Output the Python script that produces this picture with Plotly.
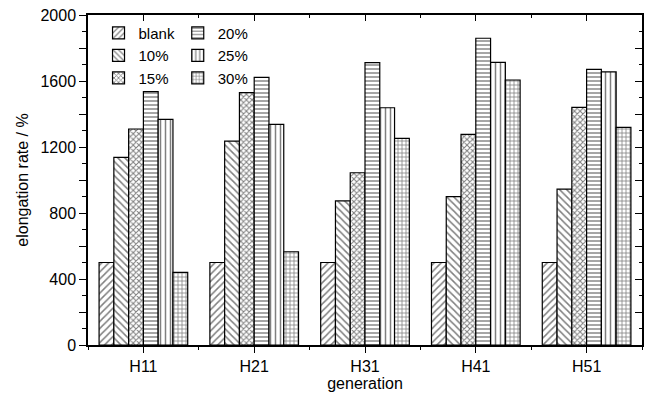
import plotly.graph_objects as go

categories = ["H11", "H21", "H31", "H41", "H51"]
series_names = ["blank", "10%", "15%", "20%", "25%", "30%"]
blank = [500, 500, 500, 500, 500]
p10 = [1137, 1236, 873, 899, 945]
p15 = [1309, 1529, 1044, 1277, 1440]
p20 = [1535, 1622, 1711, 1859, 1671]
p25 = [1368, 1337, 1438, 1713, 1655]
p30 = [440, 565, 1252, 1606, 1319]
y_ticks = [0, 200, 400, 600, 800, 1000, 1200, 1400, 1600, 1800, 2000]

values = [blank, p10, p15, p20, p25, p30]
shapes = ["/", "\\", "x", "-", "|", "+"]
sizes = [5, 5, 4, 4, 5, 4]
solid = [0.3, 0.3, 0.45, 0.35, 0.3, 0.35]
xs = list(range(len(categories)))

fig = go.Figure()
for i, (name, vals) in enumerate(zip(series_names, values)):
    fig.add_trace(go.Bar(
        x=xs, y=vals, name=name,
        marker=dict(color="white", line=dict(color="black", width=1.2),
                    pattern=dict(shape=shapes[i], fgcolor="black", bgcolor="white",
                                 size=sizes[i], solidity=solid[i], fillmode="overlay")),
        legend="legend" if i < 3 else "legend2",
    ))

fig.add_trace(go.Scatter(x=[None], y=[None], xaxis="x2", yaxis="y2", showlegend=False))

font = "Liberation Sans, Arial, sans-serif"
ticktext = [str(v) if v % 400 == 0 else "" for v in y_ticks]

fig.update_layout(
    width=648, height=397,
    margin=dict(l=88, r=6, t=15, b=52),
    paper_bgcolor="white", plot_bgcolor="white",
    font=dict(family=font, size=16, color="black"),
    barmode="group", bargap=0.2, bargroupgap=0,
    xaxis=dict(range=[-0.5, 4.5], tickvals=xs, ticktext=categories,
               ticks="outside", ticklen=6, tickwidth=1.2, tickcolor="black",
               showline=True, linecolor="black", linewidth=1.5, showgrid=False, zeroline=False,
               minor=dict(tick0=0.5, dtick=1, ticks="outside", ticklen=3, tickcolor="black"),
               tickfont=dict(size=16),
               title=dict(text="generation", standoff=2, font=dict(size=16))),
    yaxis=dict(range=[0, 2000], tickvals=y_ticks, ticktext=ticktext,
               ticks="outside", ticklen=7, tickwidth=1.2, tickcolor="black",
               showline=True, linecolor="black", linewidth=1.5, showgrid=False, zeroline=False,
               minor=dict(dtick=100, ticks="outside", ticklen=4, tickcolor="black"),
               tickfont=dict(size=16),
               title=dict(text="elongation rate / %", standoff=8, font=dict(size=16))),
    xaxis2=dict(overlaying="x", side="top", range=[-0.5, 4.5], tickvals=xs,
                showticklabels=False, ticks="inside", ticklen=6, tickcolor="black",
                showline=True, linecolor="black", linewidth=1.5, showgrid=False, zeroline=False,
                minor=dict(tick0=0.5, dtick=1, ticks="inside", ticklen=3, tickcolor="black")),
    yaxis2=dict(overlaying="y", side="right", range=[0, 2000], tickvals=y_ticks,
                showticklabels=False, ticks="inside", ticklen=7, tickcolor="black",
                showline=True, linecolor="black", linewidth=1.5, showgrid=False, zeroline=False,
                minor=dict(dtick=100, ticks="inside", ticklen=3, tickcolor="black")),
    legend=dict(x=0.019, y=0.995, xanchor="left", yanchor="top", bgcolor="rgba(0,0,0,0)",
                font=dict(size=15), itemwidth=30, tracegroupgap=0),
    legend2=dict(x=0.162, y=0.995, xanchor="left", yanchor="top", bgcolor="rgba(0,0,0,0)",
                 font=dict(size=15), itemwidth=30, tracegroupgap=0),
)

fig.write_html("out.html")
